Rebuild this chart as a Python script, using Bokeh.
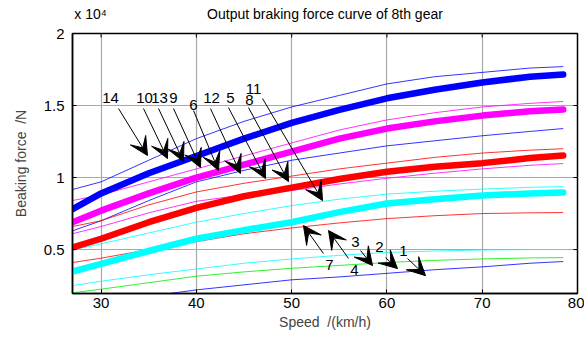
import math
from bokeh.plotting import figure
from bokeh.models import (Range1d, FixedTicker, LinearAxis, Arrow, VeeHead,
                          ColumnDataSource, LabelSet)
from bokeh.core.properties import value
from bokeh.embed import file_html
from bokeh.resources import INLINE

# ---------------- data (braking force in 10^4 N) ----------------
speed = [27, 30, 35, 40, 45, 50, 55, 60, 65, 70, 75, 78.5]

thick_blue    = [0.78, 0.89, 1.03, 1.15, 1.27, 1.38, 1.47, 1.55, 1.61, 1.66, 1.70, 1.715]
thick_magenta = [0.69, 0.77, 0.89, 1.00, 1.09, 1.18, 1.27, 1.34, 1.39, 1.43, 1.46, 1.472]
thick_red     = [0.515, 0.575, 0.69, 0.79, 0.87, 0.93, 0.99, 1.04, 1.075, 1.10, 1.135, 1.153]
thick_cyan    = [0.347, 0.40, 0.49, 0.575, 0.635, 0.69, 0.76, 0.82, 0.85, 0.875, 0.89, 0.896]

thin_blue_top     = [0.917, 0.97, 1.12, 1.27, 1.39, 1.49, 1.57, 1.65, 1.70, 1.73, 1.76, 1.77]
thin_magenta_up   = [0.84, 0.88, 0.97, 1.06, 1.15, 1.24, 1.33, 1.40, 1.45, 1.49, 1.515, 1.528]
thin_blue_mid     = [0.63, 0.70, 0.84, 0.97, 1.05, 1.12, 1.17, 1.22, 1.255, 1.29, 1.32, 1.34]
thin_red_up       = [0.66, 0.70, 0.81, 0.90, 0.96, 1.01, 1.06, 1.10, 1.14, 1.17, 1.19, 1.20]
thin_magenta_low  = [0.61, 0.66, 0.755, 0.835, 0.88, 0.91, 0.955, 0.995, 1.03, 1.06, 1.085, 1.097]
thin_cyan_up      = [0.497, 0.54, 0.615, 0.69, 0.75, 0.805, 0.85, 0.885, 0.905, 0.92, 0.932, 0.937]
thin_red_low      = [0.41, 0.44, 0.50, 0.555, 0.61, 0.65, 0.685, 0.715, 0.735, 0.75, 0.755, 0.757]
thin_cyan_low     = [0.25, 0.28, 0.325, 0.365, 0.405, 0.435, 0.46, 0.48, 0.49, 0.497, 0.50, 0.50]
thin_green        = [0.20, 0.225, 0.27, 0.315, 0.345, 0.37, 0.39, 0.41, 0.425, 0.435, 0.442, 0.444]
thin_blue_low     = [0.10, 0.13, 0.175, 0.22, 0.255, 0.29, 0.31, 0.335, 0.36, 0.38, 0.405, 0.417]

x_ticks = [30, 40, 50, 60, 70, 80]
y_ticks = [0.5, 1, 1.5, 2]
y_tick_labels = ["0.5", "1", "1.5", "2"]

title_text = "Output braking force curve of 8th gear"
exponent_text = "x 10\u2074"

# annotation labels: text, label position, arrow tail, arrow head (data units)
ann_text = ["14", "10", "13", "9", "6", "12", "5", "8", "11", "7", "4", "3", "2", "1"]
ann_lx = [31.0, 34.56, 36.13, 37.6, 39.7, 41.59, 43.58, 45.58, 46.0, 53.97, 56.6, 56.7, 59.22, 61.74]
ann_ly = [1.549, 1.549, 1.549, 1.549, 1.507, 1.549, 1.549, 1.535, 1.618, 0.396, 0.361, 0.556, 0.521, 0.493]
tail_x = [31.83, 34.45, 36.03, 37.6, 39.7, 41.48, 43.37, 45.47, 46.94, 53.34, 55.97, 57.23, 59.85, 62.16]
tail_y = [1.479, 1.479, 1.479, 1.479, 1.465, 1.479, 1.486, 1.486, 1.549, 0.472, 0.438, 0.493, 0.444, 0.438]
head_x = [34.87, 36.97, 38.65, 40.43, 42.32, 44.63, 47.26, 49.67, 53.24, 51.24, 53.87, 58.49, 61.11, 64.05]
head_y = [1.153, 1.132, 1.111, 1.069, 1.049, 1.028, 0.993, 0.972, 0.840, 0.667, 0.632, 0.389, 0.368, 0.319]

FONT = "Liberation Sans"
X0, X1, Y0, Y1 = 27, 80, 0.195, 2.0

p = figure(width=584, height=343, output_backend="svg", toolbar_location=None,
           x_range=Range1d(X0, X1), y_range=Range1d(Y0, Y1),
           min_border_left=72, min_border_right=7, min_border_top=33, min_border_bottom=50)
p.background_fill_color = "white"
p.border_fill_color = "white"
p.outline_line_color = "black"
p.outline_line_width = 1.5
p.title.visible = False

for ax in (p.xaxis[0], p.yaxis[0]):
    ax.major_label_text_font = FONT
    ax.major_label_text_font_size = "15px"
    ax.major_label_text_color = "black"
    ax.major_tick_in = 4
    ax.major_tick_out = 0
    ax.minor_tick_line_color = None
    ax.axis_line_color = "black"
    ax.axis_line_width = 1.5
    ax.axis_label_text_font = FONT
    ax.axis_label_text_font_size = "14px"
    ax.axis_label_text_font_style = "normal"
p.xaxis.ticker = FixedTicker(ticks=x_ticks)
p.yaxis.ticker = FixedTicker(ticks=y_ticks)
p.yaxis.major_label_overrides = {t: l for t, l in zip(y_ticks, y_tick_labels)}
p.xaxis.axis_label = "Speed \u00a0/(km/h)"
p.xaxis.axis_label_standoff = 3
p.xaxis.major_label_standoff = 4
p.yaxis.axis_label = "Beaking force \u00a0/N"
p.yaxis.axis_label_standoff = 12
p.yaxis.major_label_standoff = 8

# top strip: exponent marker (left) and chart title (centred over the box)
head_pos = [X0 + (X1 - X0) * 18 / 505, (X0 + X1) / 2]
top_ax = LinearAxis(ticker=FixedTicker(ticks=head_pos),
                    major_label_overrides={head_pos[0]: exponent_text, head_pos[1]: title_text},
                    major_label_text_font=FONT, major_label_text_font_size="14px",
                    major_label_text_color="black", major_label_standoff=6,
                    major_tick_line_color=None, minor_tick_line_color=None,
                    axis_line_color=None)
p.add_layout(top_ax, "above")

p.xgrid.ticker = FixedTicker(ticks=x_ticks)
p.ygrid.ticker = FixedTicker(ticks=y_ticks)
p.grid.grid_line_color = "#a8a8a8"
p.grid.grid_line_width = 1.2

# inward tick marks on the top and right edges of the box
tx_len = (Y1 - Y0) * 4 / 260
ty_len = (X1 - X0) * 4 / 505
p.segment(x0=x_ticks, y0=[Y1] * len(x_ticks), x1=x_ticks, y1=[Y1 - tx_len] * len(x_ticks),
          line_color="black", line_width=1)
p.segment(x0=[X1] * len(y_ticks), y0=y_ticks, x1=[X1 - ty_len] * len(y_ticks), y1=y_ticks,
          line_color="black", line_width=1)

thin = [(thin_blue_top, "#0000ff"), (thin_magenta_up, "#ff00ff"), (thin_blue_mid, "#0000ff"),
        (thin_red_up, "#ff0000"), (thin_magenta_low, "#ff00ff"), (thin_cyan_up, "#00ffff"),
        (thin_red_low, "#ff0000"), (thin_cyan_low, "#00ffff"), (thin_green, "#00ee00"),
        (thin_blue_low, "#0000ff")]
for ys, c in thin:
    p.line(speed, ys, line_color=c, line_width=1, line_alpha=0.8)

thick = [(thick_blue, "#0000ff"), (thick_magenta, "#ff00ff"), (thick_red, "#ff0000"),
         (thick_cyan, "#00ffff")]
for ys, c in thick:
    p.line(speed, ys, line_color=c, line_width=6.5, line_cap="round", line_join="round")

for tx, ty, hx, hy in zip(tail_x, tail_y, head_x, head_y):
    p.add_layout(Arrow(x_start=tx, y_start=ty, x_end=hx, y_end=hy, line_color="black",
                       line_width=1,
                       end=VeeHead(size=18, fill_color="black", line_color="black")))

src = ColumnDataSource(dict(x=ann_lx, y=ann_ly, t=ann_text))
p.add_layout(LabelSet(x="x", y="y", text="t", source=src, text_font=value(FONT),
                      text_font_size="15px", text_align="center", text_baseline="middle",
                      text_color="black"))

open("out.html", "w").write(file_html(p, INLINE))
